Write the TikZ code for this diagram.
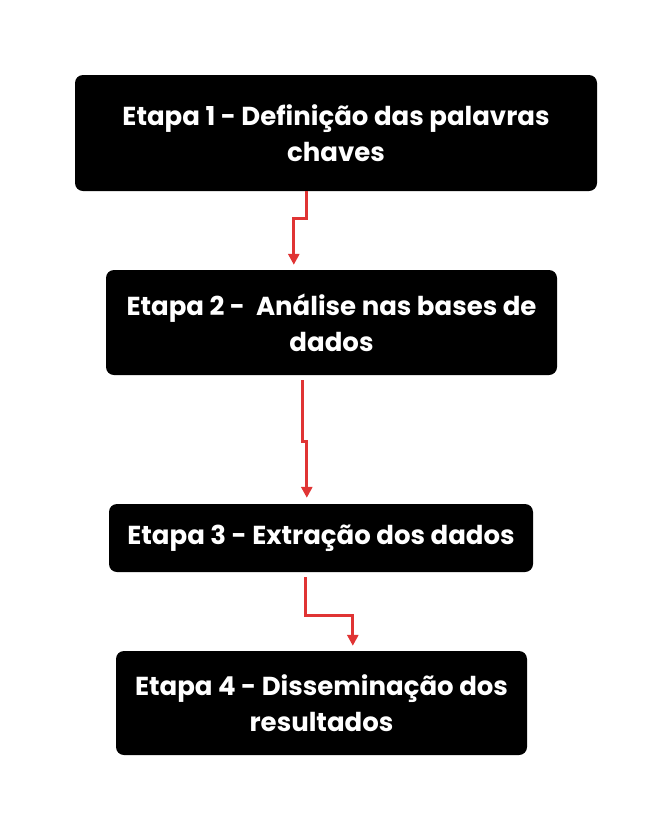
\documentclass[tikz,border=0pt]{standalone}
\usepackage{fontspec}
\setmainfont{Poppins}
\usetikzlibrary{arrows.meta}
\definecolor{arrred}{RGB}{224,52,52}
\tikzset{
  stepbox/.style={fill=black, rounded corners=8pt, inner sep=0pt, text=white,
    font=\fontsize{26}{36}\selectfont\bfseries, align=center},
  arr/.style={draw=arrred, line width=3pt, -{Triangle[width=11pt,length=11pt]}}
}
\begin{document}
\begin{tikzpicture}[x=1pt,y=-1pt]
\useasboundingbox (0,0) rectangle (672,831);
\node[stepbox, minimum width=522pt, minimum height=116pt] (b1) at (336,133) {Etapa 1 - Definição das palavras\\chaves};
\node[stepbox, minimum width=451pt, minimum height=105pt] (b2) at (331.5,322.5) {Etapa 2 -\ \ Análise nas bases de\\dados};
\node[stepbox, minimum width=424pt, minimum height=68pt] (b3) at (321,538) {Etapa 3 - Extração dos dados};
\node[stepbox, minimum width=411pt, minimum height=104pt] (b4) at (321.5,703) {Etapa 4 - Disseminação dos\ \\resultados};
\draw[arr] ([xshift=231.5pt]b1.south west) -- ++(0,27) -| ([xshift=188pt,yshift=5pt]b2.north west);
\draw[arr] ([xshift=197pt,yshift=-5pt]b2.south west) -- ++(0,61) -| ([xshift=198pt,yshift=6pt]b3.north west);
\draw[arr] ([xshift=197pt,yshift=-5pt]b3.south west) -- ++(0,38) -| ([xshift=237pt,yshift=5pt]b4.north west);
\end{tikzpicture}
\end{document}
